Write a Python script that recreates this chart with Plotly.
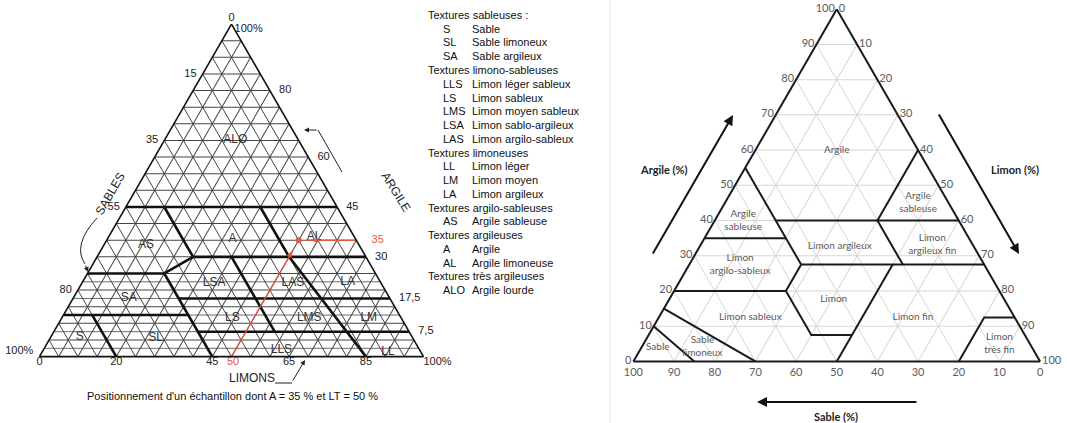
import plotly.graph_objects as go

W, H = 1067, 423

# ================= LEFT TRIANGLE (argile, sable, limon) =================
left_boundaries = [
    [(45, 55, 0), (45, 0, 55)],
    [(45, 45, 10), (30, 45, 25)],
    [(30, 45, 25), (25, 55, 20)],
    [(25, 75, 0), (25, 55, 20)],
    [(25, 55, 20), (0, 55, 45)],
    [(30, 45, 25), (30, 0, 70)],
    [(30, 35, 35), (7.5, 35, 57.5)],
    [(45, 20, 35), (30, 20, 50), (0, 15, 85)],
    [(17.5, 55, 27.5), (17.5, 0, 82.5)],
    [(12.5, 87.5, 0), (12.5, 55, 32.5)],
    [(7.5, 55, 37.5), (7.5, 0, 92.5)],
    [(12.5, 80, 7.5), (0, 80, 20)],
]
left_extra_grid = [2.5, 7.5, 12.5, 17.5, 22.5]

left_class_names = ["ALO", "AS", "A", "AL", "LSA", "LAS", "LA", "SA", "LS",
                    "LMS", "LM", "S", "SL", "LLS", "LL"]
left_class_argile = [65, 33.5, 35.5, 36, 22, 22, 22.5, 17.5, 11.5, 11.5, 11.5, 6, 5.5, 2, 1.5]
left_class_sable = [16.5, 55.5, 32, 10.5, 43.5, 23, 8.5, 68, 44, 24, 8.5, 86.5, 67, 36, 8.5]

left_sable_ticks = [15, 35, 55, 80]
left_argile_ticks = [80, 60, 45, 30, 17.5, 7.5]
left_argile_ticktext = ["80", "60", "45", "30", "17,5", "7,5"]
left_limon_ticks = [0, 20, 45, 65, 85]

sample_argile, sample_limon = 35, 50

legend_groups = [
    ("Textures sableuses :", [("S", "Sable"), ("SL", "Sable limoneux"), ("SA", "Sable argileux")]),
    ("Textures limono-sableuses", [("LLS", "Limon léger sableux"), ("LS", "Limon sableux"),
                                   ("LMS", "Limon moyen sableux"), ("LSA", "Limon sablo-argileux"),
                                   ("LAS", "Limon argilo-sableux")]),
    ("Textures limoneuses", [("LL", "Limon léger"), ("LM", "Limon moyen"), ("LA", "Limon argileux")]),
    ("Textures argilo-sableuses", [("AS", "Argile sableuse")]),
    ("Textures argileuses", [("A", "Argile"), ("AL", "Argile limoneuse")]),
    ("Textures très argileuses", [("ALO", "Argile lourde")]),
]

# ================= RIGHT TRIANGLE (argile, sable, limon) =================
right_boundaries = [
    [(55, 45, 0), (27.5, 45, 27.5)],
    [(35, 65, 0), (35, 45, 20)],
    [(40, 45, 15), (40, 0, 60)],
    [(60, 0, 40), (40, 20, 40), (27.5, 20, 52.5)],
    [(27.5, 45, 27.5), (27.5, 0, 72.5)],
    [(20, 80, 0), (20, 52.5, 27.5), (27.5, 45, 27.5)],
    [(20, 52.5, 27.5), (7.5, 52.5, 40), (7.5, 42.5, 50)],
    [(27.5, 22.5, 50), (0, 50, 50)],
    [(15, 85, 0), (0, 70, 30)],
    [(10, 90, 0), (0, 85, 15)],
    [(0, 20, 80), (12.5, 7.5, 80), (12.5, 0, 87.5)],
]
right_class_names = ["Argile", "Argile<br>sableuse", "Argile<br>sableuse", "Limon argileux",
                     "Limon<br>argileux fin", "Limon<br>argilo-sableux", "Limon", "Limon sableux",
                     "Limon fin", "Sable", "Sable<br>limoneux", "Limon<br>très fin"]
right_class_argile = [60, 40, 45, 32.5, 33, 27.5, 17.5, 12.5, 12.5, 4, 4, 5]
right_class_sable = [20, 53, 7.5, 33, 10, 60, 42, 65, 25, 92, 81, 7.5]
right_ticks = list(range(0, 101, 10))

# ------------------------------------------------------------------
def X(px):
    return px / W


def Y(py):
    return 1 - py / H


fig = go.Figure()
LFONT = "Liberation Sans, Arial, sans-serif"
RFONT = "Lato, Open Sans, sans-serif"
TXT = "#222222"
NB = "\u00a0"

# extra thin grid lines (left)
for a in left_extra_grid:
    fig.add_trace(go.Scatterternary(subplot="ternary", a=[a, a], b=[100 - a, 0], c=[0, 100 - a],
                                    mode="lines", line=dict(color="#444", width=0.8),
                                    hoverinfo="skip", showlegend=False))
for poly in left_boundaries:
    fig.add_trace(go.Scatterternary(subplot="ternary", a=[p[0] for p in poly], b=[p[1] for p in poly],
                                    c=[p[2] for p in poly], mode="lines",
                                    line=dict(color="#111", width=2.6), cliponaxis=False,
                                    hoverinfo="skip", showlegend=False))
# class labels left
fig.add_trace(go.Scatterternary(subplot="ternary", a=left_class_argile, b=left_class_sable,
                                c=[100 - x - y for x, y in zip(left_class_argile, left_class_sable)],
                                mode="text", text=left_class_names,
                                textfont=dict(family=LFONT, size=12, color="#333333"),
                                hoverinfo="skip", showlegend=False))


def ltext(a, b, c, text, pos, color=TXT):
    fig.add_trace(go.Scatterternary(subplot="ternary", a=a, b=b, c=c, mode="text", text=text,
                                    textposition=pos, textfont=dict(family=LFONT, size=11, color=color),
                                    cliponaxis=False, hoverinfo="skip", showlegend=False))


# sable ticks (left edge)
ltext([100 - v for v in left_sable_ticks], left_sable_ticks, [0] * len(left_sable_ticks),
      [str(v) + NB * 2 for v in left_sable_ticks], "middle left")
ltext([100], [0], [0], ["0"], "top center")
ltext([100], [0], [0], [NB + "100%"], "bottom right")
ltext([0], [100], [0], ["100%" + NB * 2], "top left")
# argile ticks (right edge)
ltext(left_argile_ticks, [0] * len(left_argile_ticks), [100 - v for v in left_argile_ticks],
      [NB * 3 + t for t in left_argile_ticktext], "middle right")
# limon ticks (bottom)
ltext([0] * len(left_limon_ticks), [100 - v for v in left_limon_ticks], left_limon_ticks,
      [str(v) for v in left_limon_ticks], "bottom center")
ltext([0], [0], [100], ["100%"], "bottom right")

# sample in red
RED = "#e4573f"
sample_sable = 100 - sample_argile - sample_limon
fig.add_trace(go.Scatterternary(subplot="ternary", a=[0, sample_argile - 2.5], b=[100 - sample_limon, sample_sable + 2.5],
                                c=[sample_limon, sample_limon], mode="lines", line=dict(color=RED, width=1.3),
                                cliponaxis=False, hoverinfo="skip", showlegend=False))
fig.add_trace(go.Scatterternary(subplot="ternary", a=[sample_argile - 3], b=[sample_sable + 3], c=[sample_limon],
                                mode="markers", marker=dict(symbol="arrow", size=8, color=RED, angle=30),
                                cliponaxis=False, hoverinfo="skip", showlegend=False))
fig.add_trace(go.Scatterternary(subplot="ternary", a=[sample_argile, sample_argile], b=[0, sample_sable - 2],
                                c=[100 - sample_argile, sample_limon + 2], mode="lines",
                                line=dict(color=RED, width=1.3), cliponaxis=False,
                                hoverinfo="skip", showlegend=False))
fig.add_trace(go.Scatterternary(subplot="ternary", a=[sample_argile], b=[sample_sable - 3], c=[sample_limon + 3],
                                mode="markers", marker=dict(symbol="arrow", size=8, color=RED, angle=270),
                                cliponaxis=False, hoverinfo="skip", showlegend=False))
fig.add_trace(go.Scatterternary(subplot="ternary", a=[sample_argile], b=[sample_sable], c=[sample_limon],
                                mode="markers", marker=dict(symbol="circle", size=6, color=RED),
                                cliponaxis=False, hoverinfo="skip", showlegend=False))
ltext([sample_argile], [0], [100 - sample_argile], [NB * 5 + str(sample_argile)], "middle right", RED)
ltext([0], [100 - sample_limon], [sample_limon], [NB + str(sample_limon)], "bottom center", RED)

# ---------------- right triangle traces ----------------
for poly in right_boundaries:
    fig.add_trace(go.Scatterternary(subplot="ternary2", a=[p[0] for p in poly], b=[p[1] for p in poly],
                                    c=[p[2] for p in poly], mode="lines",
                                    line=dict(color="#1a1a1a", width=2), cliponaxis=False,
                                    hoverinfo="skip", showlegend=False))
fig.add_trace(go.Scatterternary(subplot="ternary2", a=right_class_argile, b=right_class_sable,
                                c=[100 - x - y for x, y in zip(right_class_argile, right_class_sable)],
                                mode="text", text=right_class_names,
                                textfont=dict(family=RFONT, size=10, color="#5a5a5a"),
                                hoverinfo="skip", showlegend=False))


def left_axis():
    return dict(showticklabels=False, ticks="", showgrid=True, gridcolor="#444", gridwidth=0.8,
                tick0=0, dtick=5, showline=True, linecolor="#111", linewidth=1.6, title=dict(text=""))


def right_axis():
    return dict(tickmode="array", tickvals=right_ticks, ticktext=[str(v) for v in right_ticks],
                ticks="", showgrid=True, gridcolor="#d6d6d6", gridwidth=1, showline=True,
                linecolor="#1a1a1a", linewidth=2, tickfont=dict(family=RFONT, size=11, color="#5a5a5a"),
                title=dict(text=""))


fig.update_layout(
    template="none",
    width=W, height=H, autosize=False,
    margin=dict(l=0, r=0, t=0, b=0, pad=0),
    paper_bgcolor="white", plot_bgcolor="white",
    showlegend=False,
    ternary=dict(domain=dict(x=[0.0370, 0.3969], y=[0.14, 0.96]), sum=100, bgcolor="white",
                 aaxis=left_axis(), baxis=left_axis(), caxis=left_axis()),
    ternary2=dict(domain=dict(x=[0.5936, 0.9748], y=[0.140, 0.9838]), sum=100, bgcolor="white",
                  aaxis=right_axis(), baxis=right_axis(), caxis=right_axis()),
)

annotations = []
shapes = []


def note(px, py, text, size, color="#222", family=LFONT, angle=0, xanchor="center"):
    annotations.append(dict(x=X(px), y=Y(py), text=text, showarrow=False, textangle=angle,
                            xanchor=xanchor, yanchor="middle",
                            font=dict(family=family, size=size, color=color)))


def arrow(px, py, ax, ay, width, color="#222"):
    annotations.append(dict(x=X(px), y=Y(py), ax=ax, ay=ay, text="", showarrow=True, arrowhead=2,
                            arrowsize=1, arrowwidth=width, arrowcolor=color))


# legend block
row = 0
for header, items in legend_groups:
    note(426, 15 + row * 13.75, header, 11, "#111", xanchor="left")
    row += 1
    for code, name in items:
        note(441, 15 + row * 13.75, code, 11, "#111", xanchor="left")
        note(470, 15 + row * 13.75, name, 11, "#111", xanchor="left")
        row += 1

# left decorations
note(110, 194, "SABLES", 12, angle=-60)
note(396, 192, "ARGILE", 12, angle=58)
note(252, 378, "LIMONS", 12)
note(232, 396, "Positionnement d'un échantillon dont A = 35 % et LT = 50 %", 11, "#111")
arrow(304, 130, 14, 0, 1)
arrow(88, 272, -3, -8, 1)
arrow(305, 360, -13, 22, 1)
shapes += [
    dict(type="line", xref="paper", yref="paper", x0=X(318), y0=Y(130), x1=X(342), y1=Y(172),
         line=dict(color="#222", width=1)),
    dict(type="path", xref="paper", yref="paper",
         path=f"M {X(97)},{Y(218)} Q {X(72)},{Y(245)} {X(85)},{Y(264)}",
         line=dict(color="#222", width=1)),
    dict(type="line", xref="paper", yref="paper", x0=X(275), y0=Y(383), x1=X(292), y1=Y(383),
         line=dict(color="#222", width=1)),
    dict(type="line", xref="paper", yref="paper", x0=X(610), y0=Y(0), x1=X(610), y1=Y(423),
         line=dict(color="#e8e8e8", width=1)),
]

# right decorations
note(664, 169, "<b>Argile (%)</b>", 11, family=RFONT)
note(1015, 169, "<b>Limon (%)</b>", 11, family=RFONT)
note(836, 416, "<b>Sable (%)</b>", 11, family=RFONT)
arrow(733, 115, -81, 140, 2, "#111")
arrow(1019, 254, -81, -141, 2, "#111")
arrow(757, 402, 161, 0, 2, "#111")

fig.update_layout(annotations=annotations, shapes=shapes)
fig.write_html("out.html", config={"displayModeBar": False},
               post_script="document.body.style.margin='0px';")
